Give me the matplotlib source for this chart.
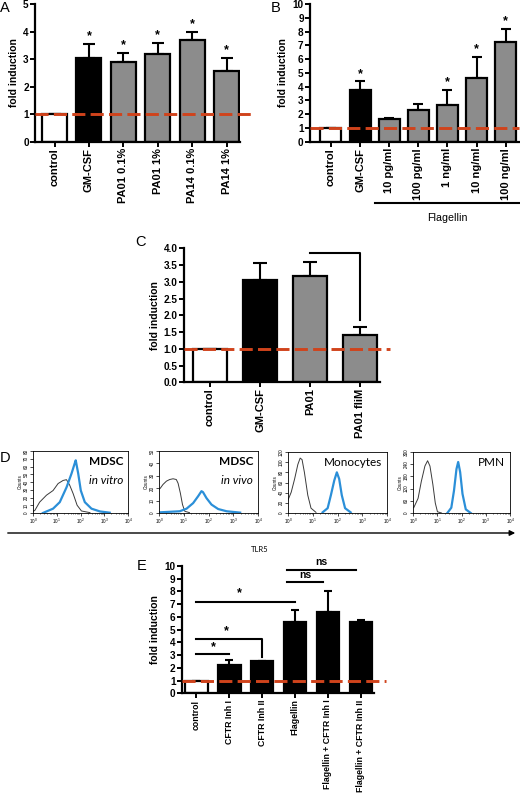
import numpy as np
import matplotlib
matplotlib.use("Agg")
import matplotlib.pyplot as plt
from matplotlib.lines import Line2D
from matplotlib.patches import FancyArrowPatch
from matplotlib.ticker import LogLocator, NullFormatter

plt.rcParams['font.family'] = ['Liberation Sans', 'DejaVu Sans']
plt.rcParams['font.weight'] = 'bold'

W, H = 520, 800

# ---------------- data ----------------
a_labels = ["control", "GM-CSF", "PA01 0.1%", "PA01 1%", "PA14 0.1%", "PA14 1%"]
a_values = [1.0, 3.05, 2.9, 3.18, 3.68, 2.57]
a_errtop = [1.0, 3.55, 3.22, 3.58, 4.0, 3.05]
a_star = [False, True, True, True, True, True]

b_labels = ["control", "GM-CSF", "10 pg/ml", "100 pg/ml", "1 ng/ml", "10 ng/ml", "100 ng/ml"]
b_values = [1.0, 3.72, 1.62, 2.27, 2.7, 4.65, 7.22]
b_errtop = [1.0, 4.38, 1.7, 2.75, 3.78, 6.18, 8.2]
b_star = [False, True, False, False, True, True, True]

c_labels = ["control", "GM-CSF", "PA01", "PA01 fliM"]
c_values = [1.0, 3.05, 3.18, 1.4]
c_errtop = [1.0, 3.55, 3.6, 1.65]

e_labels = ["control", "CFTR Inh I", "CFTR Inh II", "Flagellin",
            "Flagellin + CFTR Inh I", "Flagellin + CFTR Inh II"]
e_values = [1.0, 2.22, 2.55, 5.6, 6.4, 5.62]
e_errtop = [1.0, 2.6, 2.57, 6.55, 8.05, 5.72]

# flow histograms (panel D)
d1_black_x = [1.0, 1.2, 1.9, 3.7, 7.0, 11.4, 18.5, 25.7, 35, 49, 72, 110, 250]
d1_black_y = [2, 3.4, 14, 23, 29, 38, 42, 43, 36, 25, 10, 2.6, 0.5]
d1_blue_x = [2.6, 7, 13.4, 25.7, 42, 57, 63, 80, 103, 152, 290, 660, 1700]
d1_blue_y = [0, 5.6, 14, 33, 51, 64, 68, 51, 29, 14, 5.6, 2, 0.4]

d2_black_x = [1.0, 1.13, 1.45, 2, 2.7, 3.7, 5, 5.9, 7.3, 8.9, 11, 17]
d2_black_y = [19, 20, 23, 25.7, 27, 27.6, 27, 24, 16, 6.8, 1.4, 0.3]
d2_blue_x = [1, 6.9, 13, 24, 38, 52, 60, 83, 132, 246, 540, 1900]
d2_blue_y = [0.5, 1.4, 3.5, 8, 13.5, 17.6, 16.8, 12, 6.8, 3.2, 1.4, 0.3]

d3_black_x = [1, 1.35, 1.85, 2.5, 3.1, 3.7, 4.6, 6.3, 8.5, 13.5]
d3_black_y = [25.5, 41, 67, 95.5, 108, 105, 80, 35, 9.5, 1.3]
d3_blue_x = [25, 40, 54, 74, 94, 117, 149, 202, 340]
d3_blue_y = [1.3, 9.5, 35, 64, 80, 67, 35, 9.5, 1.3]

d4_black_x = [1.07, 1.62, 2.2, 3.1, 4, 5, 6.6, 8.3, 10.2, 15]
d4_black_y = [26, 72, 155, 231, 257, 231, 140, 49, 6, 0]
d4_blue_x = [26, 38, 49, 62, 73, 88, 110, 150, 240]
d4_blue_y = [0, 26, 110, 216, 251, 201, 94, 18, 0]

WHITE, BLACK, GRAY = "white", "black", "#8c8c8c"
RED = "#d0431c"
BLUE = "#2b8fd8"

fig = plt.figure(figsize=(W / 100, H / 100), dpi=100)


def px_axes(l, t, r, b):
    return fig.add_axes([l / W, 1 - b / H, (r - l) / W, (b - t) / H])


def bar_panel(ax, labels, values, errtop, colors, width, xlim, ylim, yticks,
              capsize, yfmt=None, stars=None, red_ext=0.3, xlabsize=8):
    x = np.arange(len(values))
    ax.bar(x, values, width=width, color=colors, edgecolor="black",
           linewidth=1.6, zorder=2)
    err = np.array(errtop) - np.array(values)
    ax.errorbar(x, values, yerr=[np.zeros(len(x)), err], fmt="none",
                ecolor="black", elinewidth=1.5, capsize=capsize,
                capthick=1.5, zorder=1)
    ax.plot([xlim[0], xlim[1] + red_ext], [1, 1], color=RED, lw=2.1,
            ls=(0, (4.5, 1.8)), zorder=4, clip_on=False)
    ax.set_xlim(*xlim)
    ax.set_ylim(*ylim)
    ax.set_yticks(yticks)
    if yfmt:
        ax.set_yticklabels([yfmt % v for v in yticks])
    ax.set_xticks(x)
    ax.set_xticklabels(labels, rotation=90, fontsize=xlabsize, fontweight="bold")
    for s in ["top", "right"]:
        ax.spines[s].set_visible(False)
    for s in ["left", "bottom"]:
        ax.spines[s].set_linewidth(1.6)
    ax.tick_params(axis="both", direction="out", length=3.5, width=1.4, pad=1)
    ax.tick_params(axis="y", labelsize=7.2)
    ax.set_ylabel("fold induction", fontsize=7.5, fontweight="bold", labelpad=3)
    if stars is not None:
        for xi, et, st in zip(x, errtop, stars):
            if st:
                ax.annotate("*", (xi, et), xytext=(0, 5.5),
                            textcoords="offset points", ha="center",
                            va="center", fontsize=9, fontweight="bold")


# ---------------- A ----------------
axA = px_axes(35, 4, 240, 141.7)
bar_panel(axA, a_labels, a_values, a_errtop,
          [WHITE, BLACK, GRAY, GRAY, GRAY, GRAY], 0.73, (-0.567, 5.39),
          (0, 5), range(0, 6), 4.5, stars=a_star, red_ext=0.35, xlabsize=8)

# ---------------- B ----------------
axB = px_axes(310, 4, 519, 141.7)
bar_panel(axB, b_labels, b_values, b_errtop,
          [WHITE, BLACK, GRAY, GRAY, GRAY, GRAY, GRAY], 0.72, (-0.72, 6.46),
          (0, 10), range(0, 11), 3.6, stars=b_star, red_ext=0.0, xlabsize=8)
fig.add_artist(Line2D([375 / W, 520 / W], [1 - 203 / H, 1 - 203 / H],
                      color="black", lw=1.5))
fig.text(447 / W, 1 - 218 / H, "Flagellin", ha="center", va="center",
         fontsize=7.7, fontweight="normal")

# ---------------- C ----------------
axC = px_axes(184, 248.3, 380, 382.3)
bar_panel(axC, c_labels, c_values, c_errtop, [WHITE, BLACK, GRAY, GRAY],
          0.68, (-0.52, 3.39), (0, 4), np.arange(0, 4.01, 0.5), 5,
          yfmt="%.1f", red_ext=0.2, xlabsize=8)
axC.plot([2, 3, 3], [3.87, 3.87, 1.85], color="black", lw=1.5, zorder=3)

# ---------------- E ----------------
axE = px_axes(181.7, 566, 374, 693.3)
bar_panel(axE, e_labels, e_values, e_errtop,
          [WHITE, BLACK, BLACK, BLACK, BLACK, BLACK], 0.68, (-0.45, 5.4),
          (0, 10), range(0, 11), 3.2, red_ext=0.35, xlabsize=6.3)
brackets = [([0, 1], [3.09, 3.09], "*", 0.5, 3.66),
            ([0, 2, 2], [4.24, 4.24, 2.88], "*", 0.9, 4.9),
            ([0, 3], [7.15, 7.15], "*", 1.3, 7.85),
            ([2.75, 3.85], [8.77, 8.77], "ns", 3.3, 9.3),
            ([2.75, 4.85], [9.69, 9.69], "ns", 3.8, 10.3)]
for bx, by, txt, tx, ty in brackets:
    axE.plot(bx, by, color="black", lw=1.5, zorder=3, clip_on=False)
    axE.text(tx, ty, txt, ha="center", va="center",
             fontsize=9 if txt == "*" else 7.5, fontweight="bold",
             clip_on=False)

# ---------------- D ----------------
d_specs = [
    ((33, 451, 128, 513), 80, range(0, 81, 10), d1_black_x, d1_black_y,
     d1_blue_x, d1_blue_y, [("MDSC", "bold", "normal"), ("in vitro", "normal", "italic")]),
    ((159, 451, 258, 513), 50, range(0, 51, 10), d2_black_x, d2_black_y,
     d2_blue_x, d2_blue_y, [("MDSC", "bold", "normal"), ("in vivo", "normal", "italic")]),
    ((288, 452, 387, 513), 120, range(0, 121, 20), d3_black_x, d3_black_y,
     d3_blue_x, d3_blue_y, [("Monocytes", "normal", "normal")]),
    ((413, 452, 510, 513), 300, range(0, 301, 60), d4_black_x, d4_black_y,
     d4_blue_x, d4_blue_y, [("PMN", "normal", "normal")]),
]
for rect, ymax, yt, bkx, bky, blx, bly, texts in d_specs:
    ax = px_axes(*rect)
    ax.plot(bkx, bky, color="#3a3a3a", lw=0.7)
    ax.plot(blx, bly, color=BLUE, lw=1.6)
    ax.set_xscale("log")
    ax.set_xlim(1, 1e4)
    ax.set_ylim(0, ymax)
    ax.set_yticks(list(yt))
    ax.xaxis.set_minor_locator(LogLocator(subs=np.arange(2, 10), numticks=20))
    ax.xaxis.set_minor_formatter(NullFormatter())
    ax.tick_params(axis="both", which="major", length=2, width=0.5,
                   labelsize=3.3, pad=1)
    ax.tick_params(axis="both", which="minor", length=1, width=0.4)
    for lbl in ax.get_yticklabels():
        lbl.set_rotation(90)
        lbl.set_va("center")
        lbl.set_fontweight("normal")
    for lbl in ax.get_xticklabels():
        lbl.set_fontweight("normal")
    for s in ax.spines.values():
        s.set_linewidth(0.6)
    ax.set_ylabel("Counts", fontsize=3.3, fontweight="normal", labelpad=1)
    for i, (t, wgt, sty) in enumerate(texts):
        ax.text(0.95, 0.83 - i * 0.3, t, transform=ax.transAxes, ha="right",
                va="center", fontsize=8.5, fontweight=wgt, style=sty,
                family=["Lato", "DejaVu Sans"])

fig.add_artist(FancyArrowPatch((5 / W, 1 - 533 / H), (518 / W, 1 - 533 / H),
                               transform=fig.transFigure, arrowstyle="-|>",
                               mutation_scale=8, lw=1, color="black"))
fig.text(260 / W, 1 - 550 / H, "TLR5", ha="center", va="center", fontsize=5.5,
         fontweight="normal", family=["Lato", "DejaVu Sans"])

# panel letters
for letter, (lx, ly) in {"A": (5, 8), "B": (276, 8), "C": (141, 242),
                         "D": (5, 458), "E": (142, 566)}.items():
    fig.text(lx / W, 1 - ly / H, letter, ha="center", va="center",
             fontsize=10.5, fontweight="normal")

fig.savefig("out.png", dpi=100)
